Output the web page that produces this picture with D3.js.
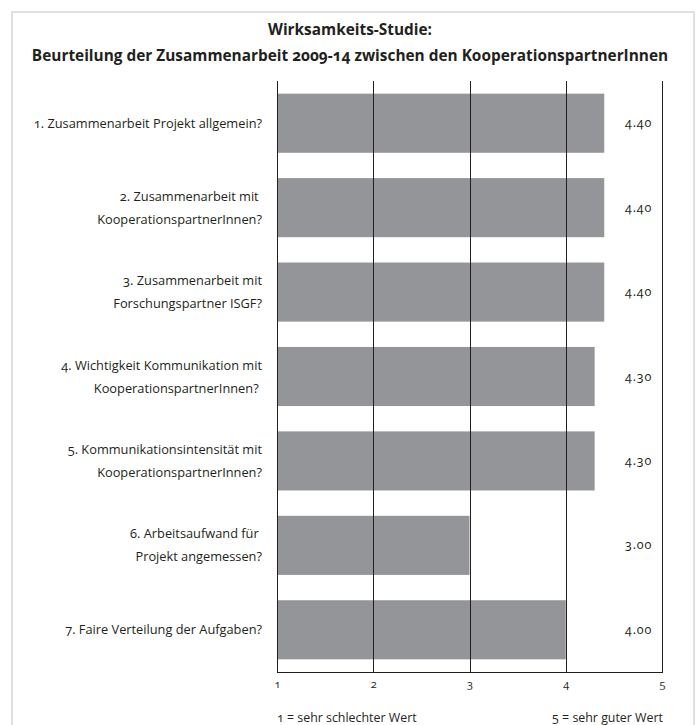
<!DOCTYPE html>
<html><head><meta charset="utf-8">
<script src="https://cdn.jsdelivr.net/npm/d3@7"></script>
<style>
html,body{margin:0;padding:0;background:#fff;}
svg{display:block;font-family:"Open Sans",Lato,sans-serif;font-variant-numeric:oldstyle-nums;}
</style></head>
<body>
<svg id="chart" width="699" height="725"></svg>
<script>
const titleLines = ["Wirksamkeits-Studie:", "Beurteilung der Zusammenarbeit 2009-14 zwischen den KooperationspartnerInnen"];
const categories = [
  ["1. Zusammenarbeit Projekt allgemein?"],
  ["2. Zusammenarbeit mit ", "KooperationspartnerInnen?"],
  ["3. Zusammenarbeit mit", "Forschungspartner ISGF?"],
  ["4. Wichtigkeit Kommunikation mit", "KooperationspartnerInnen? "],
  ["5. Kommunikationsintensität mit", "KooperationspartnerInnen?"],
  ["6. Arbeitsaufwand für ", "Projekt angemessen?"],
  ["7. Faire Verteilung der Aufgaben?"]
];
const values = [4.40, 4.40, 4.40, 4.30, 4.30, 3.00, 4.00];
const ticks = [1, 2, 3, 4, 5];
const footLeft = "1 = sehr schlechter Wert";
const footRight = "5 = sehr guter Wert";

const svg = d3.select("#chart");
// frame
svg.append("rect").attr("x", 12).attr("y", 12).attr("width", 682).attr("height", 730)
  .attr("fill", "none").attr("stroke", "#e0e0e0").attr("stroke-width", 2);

const x = d3.scaleLinear().domain([1, 5]).range([277, 662]);
const y = d3.scaleBand().domain(d3.range(categories.length)).range([81, 672]).paddingInner(0.3).paddingOuter(0.15);

// title
svg.append("g").selectAll("text").data(titleLines).join("text")
  .attr("x", 350).attr("y", (d, i) => 35 + i * 26)
  .attr("text-anchor", "middle").attr("font-weight", "bold").attr("font-size", 15.4)
  .attr("fill", "#231f20").text(d => d);

// bars
svg.append("g").selectAll("rect").data(values).join("rect")
  .attr("x", x(1)).attr("y", (d, i) => y(i)).attr("width", d => x(d) - x(1))
  .attr("height", y.bandwidth()).attr("fill", "#939598");

// gridlines
svg.append("g").selectAll("line").data(ticks).join("line")
  .attr("x1", d => Math.round(x(d)) + 0.5).attr("x2", d => Math.round(x(d)) + 0.5)
  .attr("y1", 81).attr("y2", 672).attr("stroke", "#231f20").attr("stroke-width", 1);
svg.append("line").attr("x1", x(1)).attr("x2", x(5) + 1).attr("y1", 672.5).attr("y2", 672.5)
  .attr("stroke", "#231f20").attr("stroke-width", 1);

// x axis tick labels
const xAxis = d3.axisBottom(x).tickValues(ticks).tickSize(0).tickPadding(8).tickFormat(d3.format("d"));
const gx = svg.append("g").attr("transform", "translate(0,672)").call(xAxis);
gx.select(".domain").remove();
gx.selectAll("text").attr("font-size", 11).attr("fill", "#231f20").attr("font-family", "'Open Sans',sans-serif");

// category labels
const lab = svg.append("g").selectAll("text").data(categories).join("text")
  .attr("text-anchor", "end").attr("font-size", 12.8).attr("fill", "#231f20");
lab.each(function(lines, i) {
  const cy = y(i) + y.bandwidth() / 2;
  const n = lines.length;
  d3.select(this).selectAll("tspan").data(lines).join("tspan")
    .attr("x", 262).attr("y", (d, j) => cy + (j - (n - 1) / 2) * 23 + 4.5)
    .style("white-space", "pre").text(d => d);
});

// value labels
svg.append("g").selectAll("text").data(values).join("text")
  .attr("x", 652).attr("y", (d, i) => y(i) + y.bandwidth() / 2 + 4)
  .attr("text-anchor", "end").attr("font-size", 12.5).attr("letter-spacing", 0.8).attr("fill", "#231f20")
  .text(d => d3.format(".2f")(d));

// footnotes
svg.append("text").attr("x", 277).attr("y", 722).attr("font-size", 12.4).attr("fill", "#231f20").text(footLeft);
svg.append("text").attr("x", 663).attr("y", 722).attr("text-anchor", "end").attr("font-size", 12.4).attr("fill", "#231f20").text(footRight);
</script>
</body></html>
